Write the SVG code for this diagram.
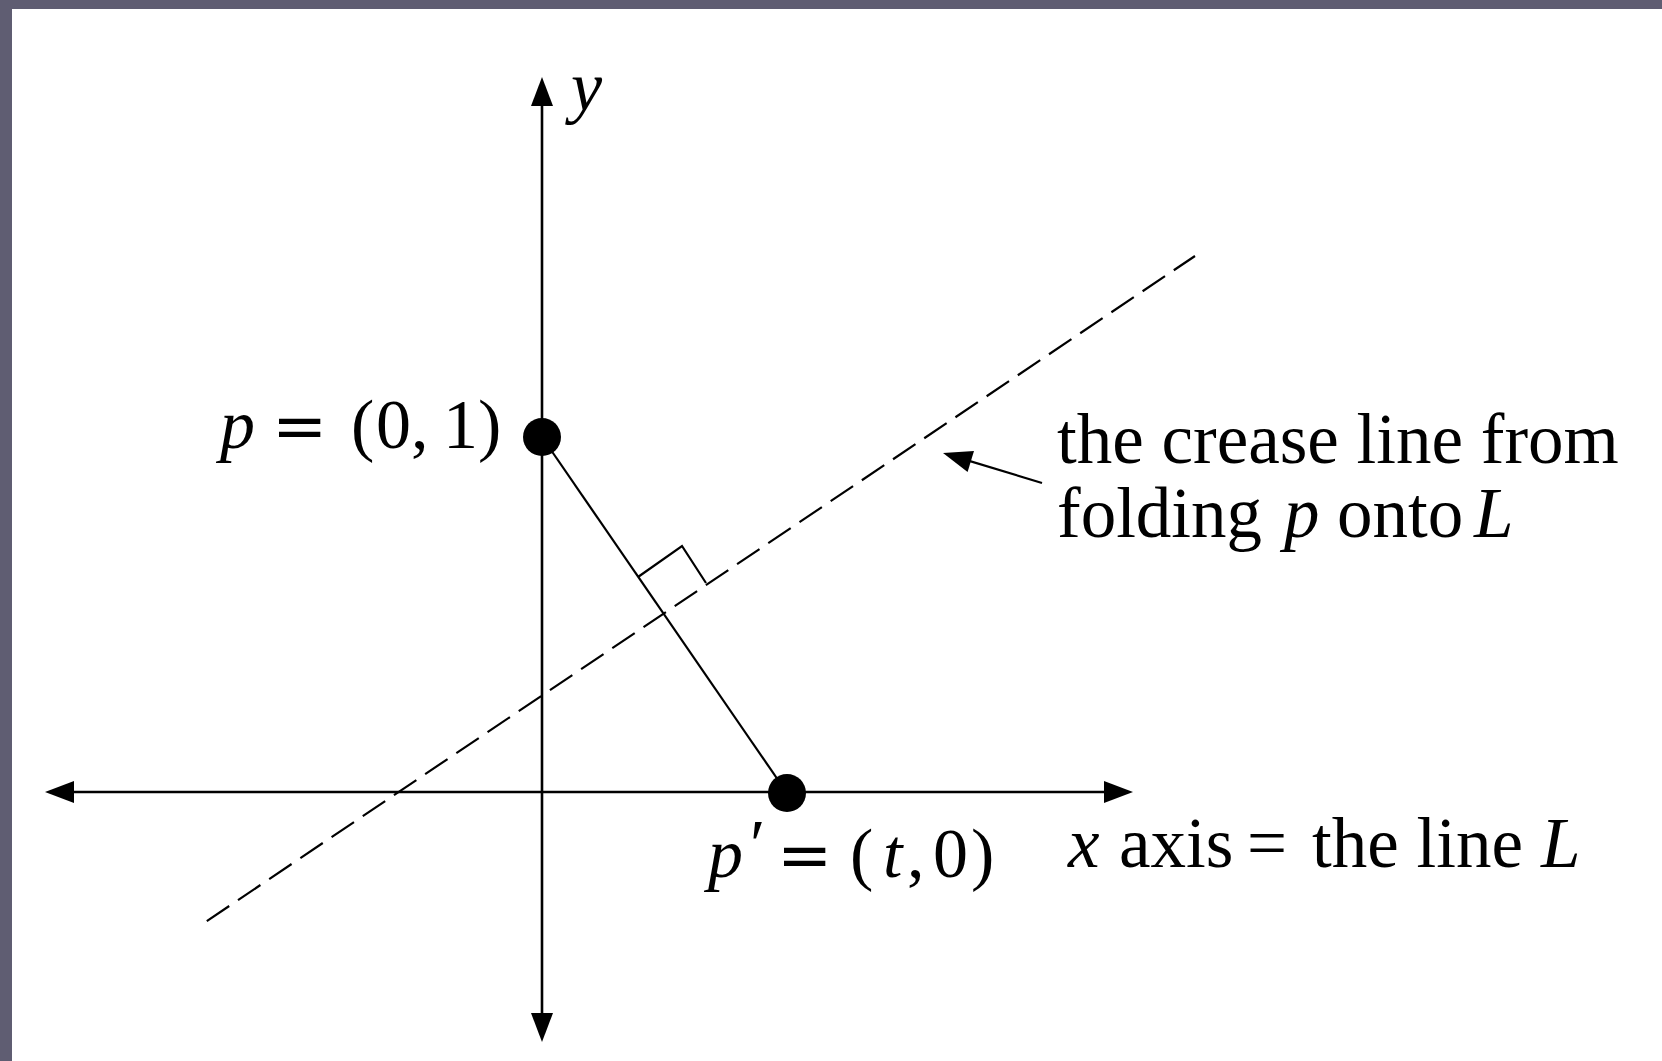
<svg xmlns="http://www.w3.org/2000/svg" width="1662" height="1061" viewBox="0 0 1662 1061">
<style>
.ax{stroke:#000;stroke-width:2.6;fill:none}
.seg{stroke:#000;stroke-width:2.2;fill:none}
.crease{stroke:#000;stroke-width:2.2;fill:none;stroke-dasharray:27 10.6;stroke-dashoffset:30.6}
.dot{fill:#000}
.t{font-family:"Liberation Serif","Times New Roman",serif;font-size:71px;fill:#000}
.m{font-family:"Liberation Serif","Times New Roman",serif;font-size:70px;fill:#000}
.i{font-style:italic}
.eq{font-family:"DejaVu Serif",serif}
</style>
<defs>
<marker id="ah" viewBox="-20 -12 31 24" markerWidth="31" markerHeight="24" refX="0" refY="0" orient="auto-start-reverse" markerUnits="userSpaceOnUse">
<path d="M-19,-11 L10,0 L-19,11 z" fill="#000"/>
</marker>
</defs>
<rect width="1662" height="1061" fill="#5f5d72"/>
<rect x="12" y="9" width="1650" height="1052" fill="#fff"/>
<g id="connectors">
<line id="x-axis" class="ax" x1="55" y1="792" x2="1123" y2="792" marker-start="url(#ah)" marker-end="url(#ah)"/>
<line id="y-axis" class="ax" x1="542" y1="87" x2="542" y2="1032" marker-start="url(#ah)" marker-end="url(#ah)"/>
<line id="crease" class="crease" x1="201" y1="925" x2="1195" y2="256"/>
<line id="p-to-pprime" class="seg" x1="542" y1="437" x2="787" y2="793"/>
<polyline id="right-angle" class="seg" points="638,577 682,546 706,583"/>
<line id="annotation-arrow" class="seg" x1="1042" y1="483" x2="952.6" y2="455.9" marker-end="url(#ah)"/>
</g>
<g id="y-label"><text class="m i" x="571" y="110" font-size="64">y</text></g>
<g id="p">
<circle class="dot" cx="542" cy="437" r="19"/>
<text class="m" y="448"><tspan class="i" x="220">p</tspan><tspan class="eq" x="272" font-size="66">=</tspan><tspan x="351">(</tspan><tspan x="376">0</tspan><tspan x="411">,</tspan><tspan x="443">1</tspan><tspan x="478">)</tspan></text>
</g>
<g id="p-prime">
<circle class="dot" cx="787" cy="793" r="19"/>
<text class="m" y="877"><tspan class="i" x="708">p</tspan><tspan x="750" y="868">′</tspan><tspan class="eq" x="777" y="877" font-size="66">=</tspan><tspan x="850" y="877">(</tspan><tspan class="i" x="883" y="877">t</tspan><tspan x="907" y="877">,</tspan><tspan x="933" y="877">0</tspan><tspan x="971" y="877">)</tspan></text>
</g>
<g id="crease-label">
<text class="t" x="1057" y="463">the crease line from</text>
<text class="t" y="537"><tspan x="1057">folding</tspan><tspan class="i" x="1284">p</tspan><tspan x="1337">onto</tspan><tspan class="i" x="1474">L</tspan></text>
</g>
<g id="x-axis-label">
<text class="t" y="867"><tspan class="i" x="1068">x</tspan><tspan x="1119">axis</tspan><tspan x="1247">=</tspan><tspan x="1312">the line</tspan><tspan class="i" x="1541">L</tspan></text>
</g>
</svg>
